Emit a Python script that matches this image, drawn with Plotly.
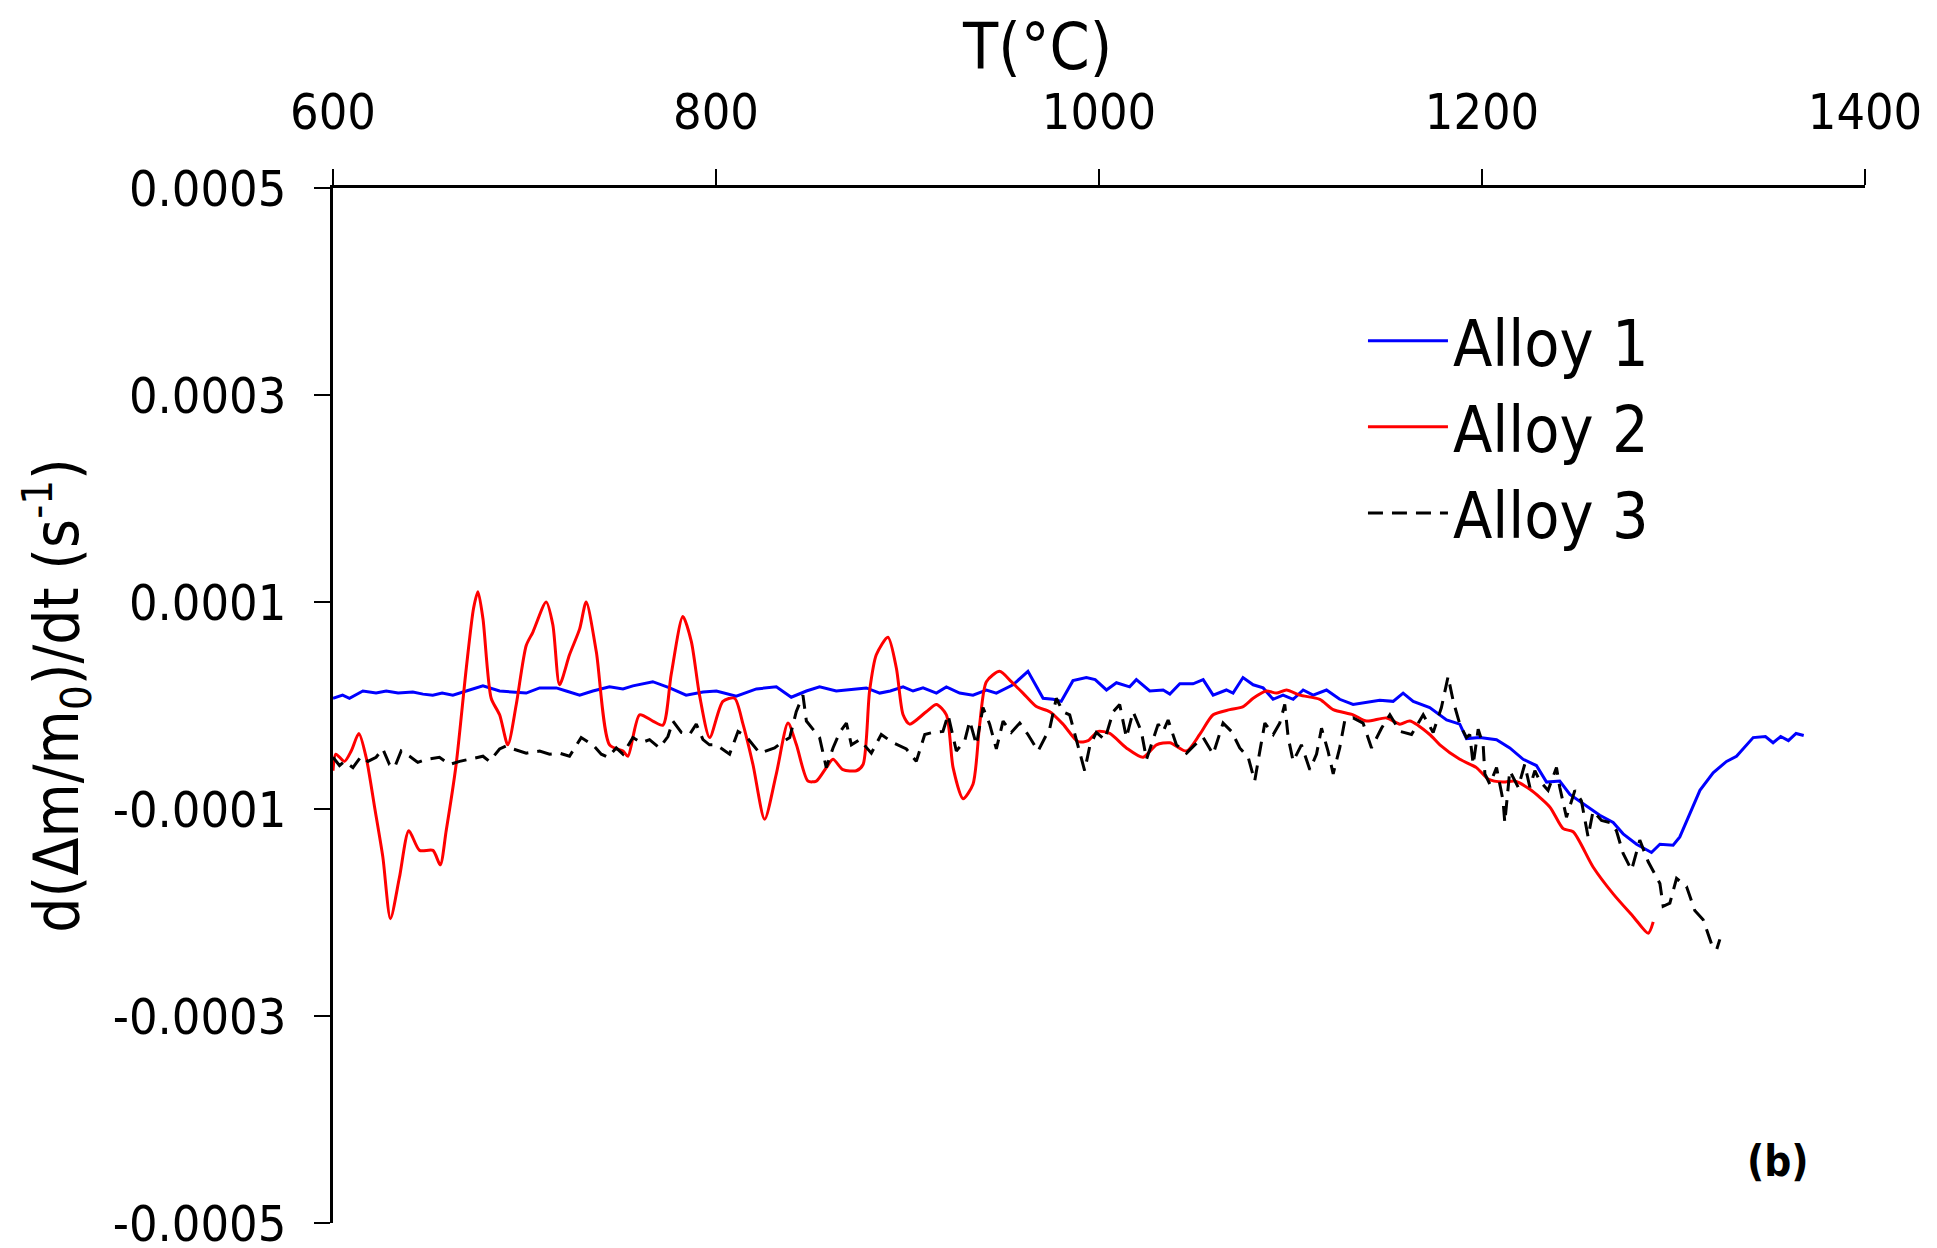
import plotly.graph_objects as go

# Alloy 1: temperature (°C) and mass-change rate (s^-1)
alloy1_T = [600, 605, 608.6, 615.6, 622.5, 627.8, 634, 641.7, 647, 652.1, 657, 662.6, 669.6, 678.3,
            687, 694, 700.9, 707.9, 716.6, 721.8, 728.8, 735.7, 744.4, 751.4, 756.6, 767, 775.8,
            784.4, 793.2, 800.2, 810.6, 821.1, 831.5, 839.3, 847.2, 854.1, 862.8, 873.3, 878.5,
            885.5, 891, 897.7, 902.9, 908.1, 915.1, 920.3, 927.2, 934.2, 941.2, 946.4, 955.1,
            962.9, 970.8, 976, 980.3, 986.4, 993.4, 998, 1003.9, 1009.1, 1016, 1019.5, 1026.5,
            1033.5, 1037, 1042.2, 1049.1, 1054.4, 1059.6, 1066.5, 1070, 1075.2, 1080.5, 1085.7,
            1090.9, 1096.1, 1101.4, 1106.6, 1111.8, 1118.8, 1125.7, 1132.7, 1139.7, 1146.6,
            1153.6, 1158.8, 1164.1, 1172.7, 1181.5, 1188.4, 1191.9, 1198.9, 1207.6, 1214.5,
            1221.5, 1228.4, 1233.7, 1240.6, 1245.9, 1252.8, 1261.5, 1268.5, 1273.7, 1280.7,
            1288.5, 1292.9, 1299.8, 1303.3, 1308.5, 1313.8, 1320.7, 1327.7, 1332.9, 1341.6,
            1348, 1352, 1356, 1360, 1364, 1368]
alloy1_rate = [0.07e-4, 0.10e-4, 0.07e-4, 0.14e-4, 0.12e-4, 0.14e-4, 0.12e-4, 0.13e-4, 0.11e-4,
               0.10e-4, 0.12e-4, 0.10e-4, 0.14e-4, 0.19e-4, 0.14e-4, 0.13e-4, 0.12e-4, 0.17e-4,
               0.17e-4, 0.14e-4, 0.10e-4, 0.14e-4, 0.18e-4, 0.16e-4, 0.19e-4, 0.23e-4, 0.17e-4,
               0.10e-4, 0.13e-4, 0.14e-4, 0.09e-4, 0.16e-4, 0.18e-4, 0.08e-4, 0.14e-4, 0.18e-4,
               0.14e-4, 0.16e-4, 0.17e-4, 0.12e-4, 0.14e-4, 0.18e-4, 0.14e-4, 0.17e-4, 0.12e-4,
               0.18e-4, 0.12e-4, 0.10e-4, 0.15e-4, 0.12e-4, 0.20e-4, 0.33e-4, 0.07e-4, 0.06e-4,
               0.04e-4, 0.24e-4, 0.27e-4, 0.25e-4, 0.15e-4, 0.22e-4, 0.18e-4, 0.25e-4, 0.14e-4,
               0.15e-4, 0.11e-4, 0.21e-4, 0.21e-4, 0.25e-4, 0.10e-4, 0.15e-4, 0.12e-4, 0.27e-4,
               0.20e-4, 0.17e-4, 0.06e-4, 0.10e-4, 0.06e-4, 0.15e-4, 0.10e-4, 0.15e-4, 0.06e-4,
               0.01e-4, 0.03e-4, 0.05e-4, 0.04e-4, 0.12e-4, 0.04e-4, -0.02e-4, -0.14e-4,
               -0.18e-4, -0.32e-4, -0.31e-4, -0.33e-4, -0.41e-4, -0.52e-4, -0.58e-4, -0.74e-4,
               -0.73e-4, -0.86e-4, -0.95e-4, -1.06e-4, -1.13e-4, -1.24e-4, -1.34e-4, -1.42e-4,
               -1.34e-4, -1.35e-4, -1.27e-4, -1.05e-4, -0.82e-4, -0.65e-4, -0.54e-4, -0.49e-4,
               -0.31e-4, -0.30e-4, -0.36e-4, -0.30e-4, -0.34e-4, -0.27e-4, -0.29e-4]

# Alloy 2
alloy2_T = [600, 601.5, 606, 609.5, 613.5, 617.3, 621.7, 626, 630, 634.7, 639.6, 645.2, 652.2,
            656, 659.1, 664.3, 669.6, 673.4, 675.7, 678.3, 682.6, 687, 691.3, 695.7, 700.9,
            704.4, 711.3, 714.8, 718.3, 723.5, 728.8, 732.2, 737.5, 744.4, 751.4, 754, 760.1,
            767, 772.3, 776.6, 782.7, 787.1, 791.4, 796.7, 803.6, 809.7, 814.1, 819.3, 825.4,
            831.5, 837.6, 842, 848, 852.4, 857.6, 861.1, 866.3, 873.3, 876.8, 880.2, 883.7,
            889.8, 894.2, 897.7, 901.1, 909.8, 915.1, 920.3, 923.8, 929, 934.2, 937.7, 941.2,
            948.1, 954.2, 960.3, 967.3, 974.3, 981.2, 989.1, 994.3, 999.5, 1005.6, 1014.3,
            1023, 1030, 1037, 1045.7, 1052.6, 1059.6, 1068.3, 1075.3, 1080.5, 1087.4, 1092.7,
            1097.9, 1104.8, 1115.3, 1122.3, 1132.7, 1139.7, 1150.1, 1157.1, 1162.3, 1172.7,
            1178, 1188.4, 1197.1, 1203.2, 1211, 1217.1, 1225, 1235.4, 1242.4, 1247.6, 1258,
            1268.5, 1279, 1286.8, 1289.4]
alloy2_rate = [-0.63e-4, -0.47e-4, -0.54e-4, -0.44e-4, -0.27e-4, -0.50e-4, -0.98e-4, -1.46e-4,
               -2.06e-4, -1.66e-4, -1.21e-4, -1.40e-4, -1.40e-4, -1.54e-4, -1.21e-4, -0.57e-4,
               0.36e-4, 0.94e-4, 1.10e-4, 0.84e-4, 0.07e-4, -0.09e-4, -0.38e-4, 0.01e-4,
               0.58e-4, 0.71e-4, 1.00e-4, 0.78e-4, 0.20e-4, 0.49e-4, 0.74e-4, 1.00e-4, 0.52e-4,
               -0.38e-4, -0.44e-4, -0.49e-4, -0.09e-4, -0.15e-4, -0.19e-4, 0.30e-4, 0.86e-4,
               0.62e-4, 0.10e-4, -0.31e-4, 0.04e-4, 0.07e-4, -0.18e-4, -0.57e-4, -1.10e-4,
               -0.66e-4, -0.17e-4, -0.38e-4, -0.73e-4, -0.73e-4, -0.60e-4, -0.52e-4, -0.62e-4,
               -0.63e-4, -0.57e-4, 0.14e-4, 0.49e-4, 0.66e-4, 0.36e-4, -0.09e-4, -0.18e-4,
               -0.06e-4, 0.01e-4, -0.09e-4, -0.60e-4, -0.90e-4, -0.76e-4, -0.18e-4, 0.23e-4,
               0.33e-4, 0.23e-4, 0.12e-4, -0.01e-4, -0.06e-4, -0.18e-4, -0.35e-4, -0.34e-4,
               -0.25e-4, -0.27e-4, -0.41e-4, -0.50e-4, -0.38e-4, -0.36e-4, -0.44e-4, -0.28e-4,
               -0.09e-4, -0.04e-4, -0.01e-4, 0.07e-4, 0.14e-4, 0.12e-4, 0.15e-4, 0.10e-4,
               0.06e-4, -0.04e-4, -0.09e-4, -0.15e-4, -0.12e-4, -0.18e-4, -0.15e-4, -0.28e-4,
               -0.38e-4, -0.52e-4, -0.60e-4, -0.71e-4, -0.74e-4, -0.73e-4, -0.81e-4, -0.98e-4,
               -1.19e-4, -1.22e-4, -1.56e-4, -1.82e-4, -2.04e-4, -2.20e-4, -2.09e-4]

# Alloy 3
alloy3_T = [600, 603.4, 606, 610.4, 614.7, 618.2, 622.5, 626, 629.5, 632.1, 635.6, 640, 644.3,
            648.7, 655.6, 660.9, 666.1, 671.3, 678.3, 681.7, 687, 690.5, 694, 700.9, 707.9,
            713.1, 718.3, 723.5, 729.6, 735.7, 740.1, 743.5, 747.9, 751.4, 756.6, 761, 765.3,
            770.5, 774.9, 777.5, 781.9, 786.2, 789.7, 793.2, 796.6, 800.2, 803, 807.1, 811.5,
            815.8, 822.8, 830.6, 834.1, 838.5, 841.9, 845.4, 847.2, 854.1, 857.6, 861.1, 864.6,
            868.1, 870.7, 875, 881.1, 886.3, 892.4, 899.4, 904.6, 909, 913.3, 918.5, 921.2,
            925.5, 929.9, 932.5, 936, 939.4, 942.9, 946.4, 949.9, 954.2, 958.6, 962.9, 968.2,
            974.3, 977.7, 981.2, 984.7, 989.1, 992.5, 995.2, 998.6, 1003, 1007.4, 1010.8,
            1014.3, 1017.8, 1022.1, 1024.8, 1028.2, 1030.9, 1033.5, 1036.1, 1040.4, 1045.7,
            1050, 1054.4, 1059.6, 1064.8, 1069.2, 1073.5, 1077.9, 1081.3, 1084, 1086.6, 1091,
            1094.4, 1097, 1098.8, 1101.4, 1105.7, 1110.1, 1113.6, 1116.2, 1119.6, 1122.3,
            1125.7, 1128.3, 1132.7, 1137.9, 1142.3, 1147.5, 1151.9, 1157.1, 1163.2, 1169.3,
            1174.5, 1178.8, 1182.3, 1185, 1188.4, 1191.9, 1193.6, 1195.4, 1198, 1200.6, 1201.5,
            1204.1, 1207.6, 1211, 1211.9, 1214.5, 1218.9, 1222.3, 1225, 1227.6, 1230.2, 1234.5,
            1238.9, 1240.6, 1244.1, 1248.5, 1251.9, 1255.4, 1258, 1262.4, 1266.7, 1270.2,
            1273.7, 1278.1, 1282.4, 1286.8, 1292.9, 1294.6, 1298.1, 1301.6, 1306.8, 1311.1,
            1315.5, 1319.8, 1322.5, 1324.2]
alloy3_rate = [-0.50e-4, -0.58e-4, -0.54e-4, -0.60e-4, -0.49e-4, -0.54e-4, -0.50e-4, -0.42e-4,
               -0.57e-4, -0.60e-4, -0.44e-4, -0.49e-4, -0.55e-4, -0.52e-4, -0.50e-4, -0.57e-4,
               -0.54e-4, -0.52e-4, -0.49e-4, -0.54e-4, -0.42e-4, -0.39e-4, -0.42e-4, -0.46e-4,
               -0.44e-4, -0.47e-4, -0.46e-4, -0.49e-4, -0.31e-4, -0.38e-4, -0.47e-4, -0.50e-4,
               -0.41e-4, -0.47e-4, -0.31e-4, -0.36e-4, -0.33e-4, -0.41e-4, -0.30e-4, -0.15e-4,
               -0.26e-4, -0.28e-4, -0.18e-4, -0.33e-4, -0.38e-4, -0.38e-4, -0.42e-4, -0.47e-4,
               -0.25e-4, -0.30e-4, -0.46e-4, -0.41e-4, -0.36e-4, -0.31e-4, -0.06e-4, 0.10e-4,
               -0.15e-4, -0.31e-4, -0.60e-4, -0.41e-4, -0.26e-4, -0.17e-4, -0.38e-4, -0.33e-4,
               -0.46e-4, -0.28e-4, -0.36e-4, -0.42e-4, -0.54e-4, -0.28e-4, -0.26e-4, -0.25e-4,
               -0.09e-4, -0.44e-4, -0.34e-4, -0.15e-4, -0.38e-4, -0.02e-4, -0.18e-4, -0.42e-4,
               -0.15e-4, -0.26e-4, -0.17e-4, -0.28e-4, -0.44e-4, -0.22e-4, 0.07e-4, -0.06e-4,
               -0.09e-4, -0.41e-4, -0.63e-4, -0.39e-4, -0.26e-4, -0.33e-4, -0.06e-4, 0.01e-4,
               -0.31e-4, -0.06e-4, -0.25e-4, -0.52e-4, -0.34e-4, -0.18e-4, -0.25e-4, -0.14e-4,
               -0.38e-4, -0.46e-4, -0.38e-4, -0.31e-4, -0.47e-4, -0.17e-4, -0.25e-4, -0.41e-4,
               -0.50e-4, -0.73e-4, -0.44e-4, -0.17e-4, -0.28e-4, -0.17e-4, 0.01e-4, -0.31e-4,
               -0.54e-4, -0.38e-4, -0.62e-4, -0.47e-4, -0.22e-4, -0.44e-4, -0.66e-4, -0.41e-4,
               -0.15e-4, -0.12e-4, -0.17e-4, -0.41e-4, -0.22e-4, -0.09e-4, -0.25e-4, -0.28e-4,
               -0.09e-4, -0.26e-4, -0.02e-4, 0.28e-4, 0.04e-4, -0.18e-4, -0.31e-4, -0.28e-4,
               -0.57e-4, -0.23e-4, -0.38e-4, -0.66e-4, -0.76e-4, -0.60e-4, -0.92e-4, -1.13e-4,
               -0.63e-4, -0.79e-4, -0.57e-4, -0.79e-4, -0.63e-4, -0.73e-4, -0.82e-4, -0.60e-4,
               -0.79e-4, -1.08e-4, -0.82e-4, -0.92e-4, -1.27e-4, -1.02e-4, -1.11e-4, -1.13e-4,
               -1.21e-4, -1.43e-4, -1.59e-4, -1.30e-4, -1.51e-4, -1.72e-4, -1.94e-4, -1.91e-4,
               -1.67e-4, -1.75e-4, -1.98e-4, -2.07e-4, -2.30e-4, -2.36e-4, -2.26e-4]

x_tick_vals = [600, 800, 1000, 1200, 1400]
x_tick_text = ["600", "800", "1000", "1200", "1400"]
y_tick_vals = [0.0005, 0.0003, 0.0001, -0.0001, -0.0003, -0.0005]
y_tick_text = ["0.0005", "0.0003", "0.0001", "-0.0001", "-0.0003", "-0.0005"]

FONT = "DejaVu Sans Condensed, DejaVu Sans, sans-serif"
TICK_SIZE = 50

fig = go.Figure()
fig.add_trace(go.Scatter(x=alloy1_T, y=alloy1_rate, mode="lines", name="Alloy 1",
                         legendgroup="a1", line=dict(color="#0000FF", width=3)))
fig.add_trace(go.Scatter(x=alloy2_T, y=alloy2_rate, mode="lines", name="Alloy 2",
                         legendgroup="a2",
                         line=dict(color="#FF0000", width=3, shape="spline", smoothing=0.7)))
fig.add_trace(go.Scatter(x=alloy3_T, y=alloy3_rate, mode="lines", name="Alloy 3",
                         legendgroup="a3", line=dict(color="#000000", width=3, dash="15px,9px")))

fig.update_layout(
    width=1937, height=1248,
    margin=dict(l=333, r=72, t=188, b=25),
    paper_bgcolor="white", plot_bgcolor="white",
    font=dict(family=FONT, color="#000000", size=TICK_SIZE),
    showlegend=True,
    legend=dict(x=0.6723, y=0.899, xanchor="left", yanchor="top",
                font=dict(family=FONT, size=64, color="#000000"),
                itemwidth=80,
                bgcolor="rgba(0,0,0,0)", tracegroupgap=10, traceorder="normal"),
    xaxis=dict(side="top", range=[600, 1400], tickvals=x_tick_vals, ticktext=x_tick_text,
               ticks="outside", ticklen=16, tickwidth=2, tickcolor="#000000",
               showline=True, linewidth=3, linecolor="#000000",
               showgrid=False, zeroline=False, ticklabelstandoff=20,
               ticklabeloverflow="allow", automargin=False,
               tickfont=dict(family=FONT, size=TICK_SIZE, color="#000000")),
    yaxis=dict(range=[-0.0005, 0.0005], tickvals=y_tick_vals, ticktext=y_tick_text,
               ticks="outside", ticklen=16, tickwidth=2, tickcolor="#000000",
               showline=True, linewidth=2.5, linecolor="#000000",
               showgrid=False, zeroline=False, ticklabelstandoff=18,
               ticklabeloverflow="allow", automargin=False,
               tickfont=dict(family=FONT, size=TICK_SIZE, color="#000000")),
    annotations=[
        dict(text="T(°C)", xref="paper", yref="paper", x=0.4595, y=1.136,
             xanchor="center", yanchor="middle", showarrow=False,
             font=dict(family=FONT, size=64, color="#000000")),
        dict(text="d(Δm/m<sub>0</sub>)/dt (s<sup>-1</sup>)", xref="paper", yref="paper",
             x=-0.181, y=0.51, xanchor="center", yanchor="middle", textangle=-90,
             showarrow=False, font=dict(family=FONT, size=62, color="#000000")),
        dict(text="<b>(b)</b>", xref="paper", yref="paper", x=0.943, y=0.0594,
             xanchor="center", yanchor="middle", showarrow=False,
             font=dict(family=FONT, size=42, color="#000000")),
    ],
)

fig.write_html("out.html")
